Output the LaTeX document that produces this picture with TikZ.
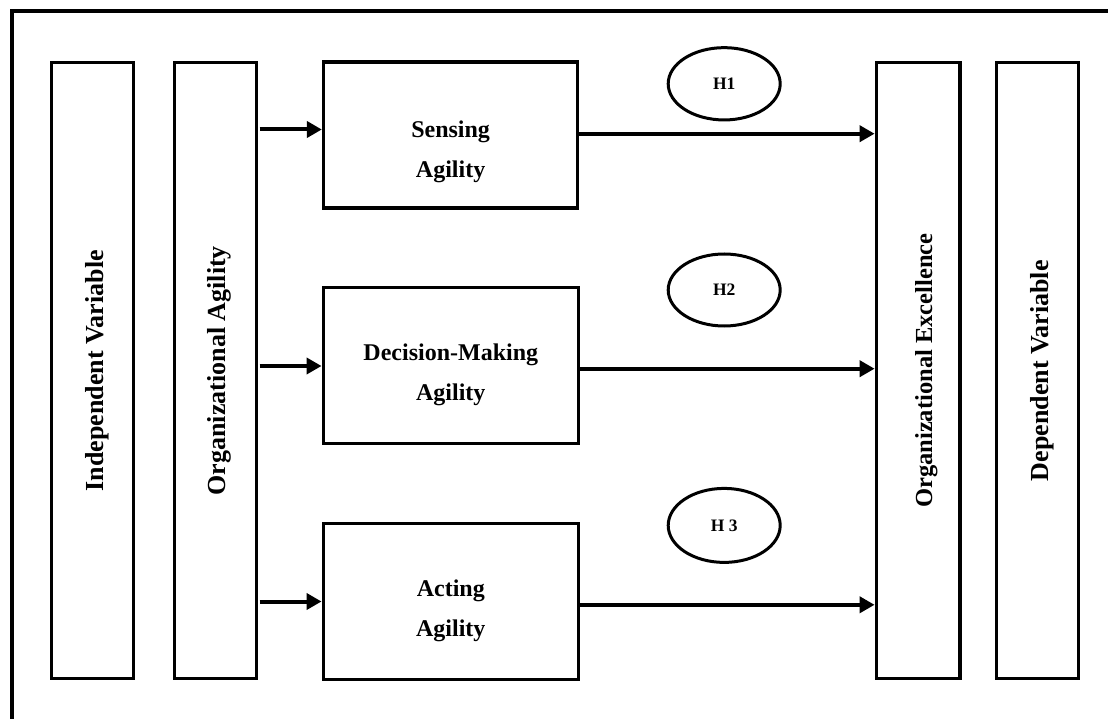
\documentclass[tikz,border=0pt]{standalone}
\usepackage{fontspec}
\setmainfont{Liberation Serif}
\usetikzlibrary{arrows.meta,shapes.geometric}
\begin{document}
\begin{tikzpicture}[x=1pt,y=-1pt,
  frame/.style={line width=4pt, line join=miter},
  tallbox/.style={draw, line width=3.5pt, minimum width=82pt, minimum height=616pt, inner sep=0pt},
  midbox/.style={draw, line width=3.5pt, minimum width=255pt, minimum height=156pt, inner sep=0pt},
  vtext/.style={rotate=90, font=\fontsize{26}{30}\selectfont\bfseries, inner sep=0pt},
  btext/.style={align=center, font=\fontsize{24}{40}\selectfont\bfseries, inner sep=0pt},
  hyp/.style={draw, ellipse, line width=3pt, minimum width=112pt, inner sep=0pt, font=\fontsize{17.5}{20}\selectfont\bfseries},
  arr/.style={line width=4pt, -{Triangle[length=15pt,width=16pt]}}
]
\useasboundingbox (0,0) rectangle (1108,719);
\coordinate (fa) at (12,740);
\coordinate (fb) at (12,11.5);
\coordinate (fc) at (1130,11.5);
\draw[frame] (fa) -- (fb) -- (fc);

% tall boxes
\node[tallbox] (iv) at (92.5,370.7) {};
\node[tallbox] (oa) at (215.3,370.7) {};
\node[tallbox, minimum width=83.7pt] (oe) at (918.2,370.7) {};
\node[tallbox] (dv) at (1037.7,370.7) {};

\node[vtext] (ivt) at ([xshift=5pt]iv.center) {Independent Variable};
\node[vtext] (oat) at ([xshift=4pt]oa.center) {Organizational Agility};
\node[vtext, font=\fontsize{24.5}{30}\selectfont\bfseries] (oet) at ([xshift=8pt]oe.center) {Organizational Excellence};
\node[vtext] (dvt) at ([xshift=5pt]dv.center) {Dependent Variable};

% dimension boxes
\node[midbox, minimum width=254pt, minimum height=146pt] (s) at (450.6,135.2) {};
\node[midbox] (d) at (450.8,365.4) {};
\node[midbox, minimum height=156.4pt] (a) at (450.8,601.5) {};

\node[btext] (st) at ([yshift=-16.5pt]s.center) {Sensing\\Agility};
\node[btext] (dt) at ([yshift=-9pt]d.center) {Decision-Making\\Agility};
\node[btext] (at) at ([yshift=-9.5pt]a.center) {Acting\\Agility};

% hypotheses
\node[hyp, minimum height=72.3pt] (h1) at (724.2,83.8) {\raisebox{-4.5pt}{H1}};
\node[hyp, minimum height=72pt] (h2) at (724.2,290) {\raisebox{-3pt}{H2}};
\node[hyp, minimum height=74pt] (h3) at (724.2,525.4) {\raisebox{-4.3pt}{H 3}};

% arrows
\coordinate (sl) at ([yshift=5.7pt]s.west);
\coordinate (dl) at ([yshift=-0.6pt]d.west);
\coordinate (al) at ([yshift=0pt]a.west);
\draw[arr, shorten <=1.5pt] (oa.east |- sl) -- (sl);
\draw[arr, shorten <=1.5pt] (oa.east |- dl) -- (dl);
\draw[arr, shorten <=1.5pt] (oa.east |- al) -- (al);

\coordinate (sr) at ([yshift=1.5pt]s.east);
\coordinate (dr) at ([yshift=-3.3pt]d.east);
\coordinate (ar) at ([yshift=-3.3pt]a.east);
\draw[arr] (sr) -- (oe.west |- sr);
\draw[arr] (dr) -- (oe.west |- dr);
\draw[arr] (ar) -- (oe.west |- ar);
\end{tikzpicture}
\end{document}
